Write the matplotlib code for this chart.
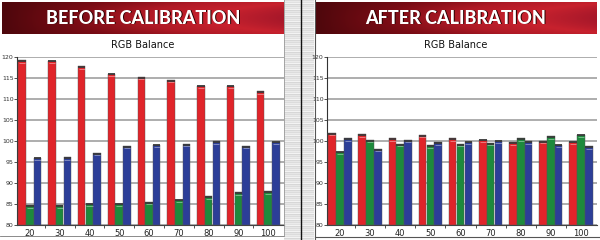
import numpy as np
import matplotlib
matplotlib.use("Agg")
import matplotlib.pyplot as plt
from matplotlib.colors import LinearSegmentedColormap

# data
levels = ["20", "30", "40", "50", "60", "70", "80", "90", "100"]

before_red = [119.2, 119.1, 117.8, 116.0, 115.2, 114.5, 113.2, 113.2, 111.8]
before_green = [84.7, 84.7, 85.1, 85.1, 85.5, 86.0, 86.8, 87.8, 88.0]
before_blue = [96.0, 96.1, 97.1, 98.8, 99.1, 99.3, 99.9, 98.8, 99.8]

after_red = [101.9, 101.6, 100.6, 101.4, 100.6, 100.3, 99.7, 100.0, 99.8]
after_green = [97.5, 100.2, 99.3, 99.0, 99.3, 99.5, 100.6, 101.1, 101.5]
after_blue = [100.6, 98.1, 100.2, 99.7, 99.8, 100.1, 99.9, 99.1, 98.7]

yticks = [80, 85, 90, 95, 100, 105, 110, 115, 120]

RED = "#e0242a"
GREEN = "#1d8a3c"
BLUE = "#2c3e98"
NARROW = ["Liberation Sans Narrow", "DejaVu Sans"]

W, H = 600, 240
fig = plt.figure(figsize=(6, 2.4), dpi=100)
fig.patch.set_facecolor("white")


def px(x0, y0, w, h):
    # pixel box (top-left origin) -> figure fraction
    return [x0 / W, (H - y0 - h) / H, w / W, h / H]


# striped gray separator
sep = fig.add_axes(px(284, 0, 30, 240))
rows = np.array([[0.86], [0.92], [0.88], [0.95], [0.84], [0.9]] * 40)
sep.imshow(rows, cmap="gray", vmin=0, vmax=1, aspect="auto", interpolation="nearest")
sep.set_axis_off()
fig.add_artist(plt.Line2D([301.5 / W, 301.5 / W], [0, 1], color="#111111", lw=1.0))
fig.add_artist(plt.Line2D([314.5 / W, 314.5 / W], [0, 1], color="#555555", lw=0.8))
fig.add_artist(plt.Line2D([314.5 / W, 1], [3 / H, 3 / H], color="#555555", lw=0.8))
fig.add_artist(plt.Line2D([0, 284 / W], [4 / H, 4 / H], color="#777777", lw=0.6))
fig.add_artist(plt.Line2D([284 / W, 284 / W], [4 / H, 1], color="#999999", lw=0.6))

banner_cmap = LinearSegmentedColormap.from_list(
    "banner", ["#4e070c", "#7a0c15", "#b01a26", "#c8222e", "#a8182a"])
gx = np.linspace(0, 1, 200)
gy = 1 - 0.3 * np.abs(np.linspace(-1, 1, 30)) ** 2
grad = np.outer(gy, gx)


def panel(x0, width, banner_x, title, red, green, blue):
    bax = fig.add_axes(px(banner_x, 2, 282, 32))
    bax.imshow(grad, cmap=banner_cmap, vmin=0, vmax=1, aspect="auto")
    bax.set_axis_off()
    cx = (banner_x + 141) / W
    fig.text(cx + 1 / W, 1 - 19 / H, title, ha="center", va="center",
             fontsize=13, fontweight="black", color="#2a0000", family=["Lato", "DejaVu Sans"])
    fig.text(cx, 1 - 18 / H, title, ha="center", va="center",
             fontsize=13, fontweight="black", color="white", family=["Lato", "DejaVu Sans"])

    ax = fig.add_axes(px(x0, 57, width, 168))
    x = np.arange(len(levels))
    bw = 0.26
    for off, vals, col in [(-bw, red, RED), (0, green, GREEN), (bw, blue, BLUE)]:
        vals = np.array(vals)
        ax.bar(x + off, vals - 80, bw * 0.96, bottom=80, color=col,
               edgecolor="#555555", linewidth=0.3, zorder=3)
        ax.hlines(vals - 0.15, x + off - bw * 0.48, x + off + bw * 0.48,
                  color="#3a3a3a", linewidth=1.3, zorder=4)
        ax.hlines(vals - 0.55, x + off - bw * 0.4, x + off + bw * 0.4,
                  color="white", alpha=0.45, linewidth=0.6, zorder=4)
    ax.set_ylim(80, 120)
    ax.set_xlim(-0.43, 8.53)
    ax.set_yticks(yticks)
    ax.set_yticklabels([str(v) for v in yticks], family=NARROW)
    ax.set_xticks(x)
    ax.set_xticklabels(levels, family=NARROW)
    ax.set_xticks(x[:-1] + 0.5, minor=True)
    ax.tick_params(axis="x", which="major", length=0, labelsize=6, pad=3, colors="#222222")
    ax.tick_params(axis="x", which="minor", length=2.5, width=0.6, color="#333333")
    ax.tick_params(axis="y", length=2, width=0.6, labelsize=4.5, pad=0.5, colors="#333333")
    ax.grid(axis="y", color="#a0a0a0", linewidth=1.2, zorder=0)
    ax.set_axisbelow(True)
    for s in ["top", "right"]:
        ax.spines[s].set_visible(False)
    ax.spines["left"].set_color("#333333")
    ax.spines["left"].set_linewidth(0.8)
    ax.spines["bottom"].set_color("#444444")
    ax.spines["bottom"].set_linewidth(0.8)
    fig.text((banner_x + 141) / W, (H - 45) / H, "RGB Balance", ha="center", va="center",
             fontsize=7, color="#111111", family=NARROW)


panel(17, 267, 2, "BEFORE CALIBRATION", before_red, before_green, before_blue)
panel(327, 270, 315, "AFTER CALIBRATION", after_red, after_green, after_blue)

fig.savefig("out.png", dpi=100)
